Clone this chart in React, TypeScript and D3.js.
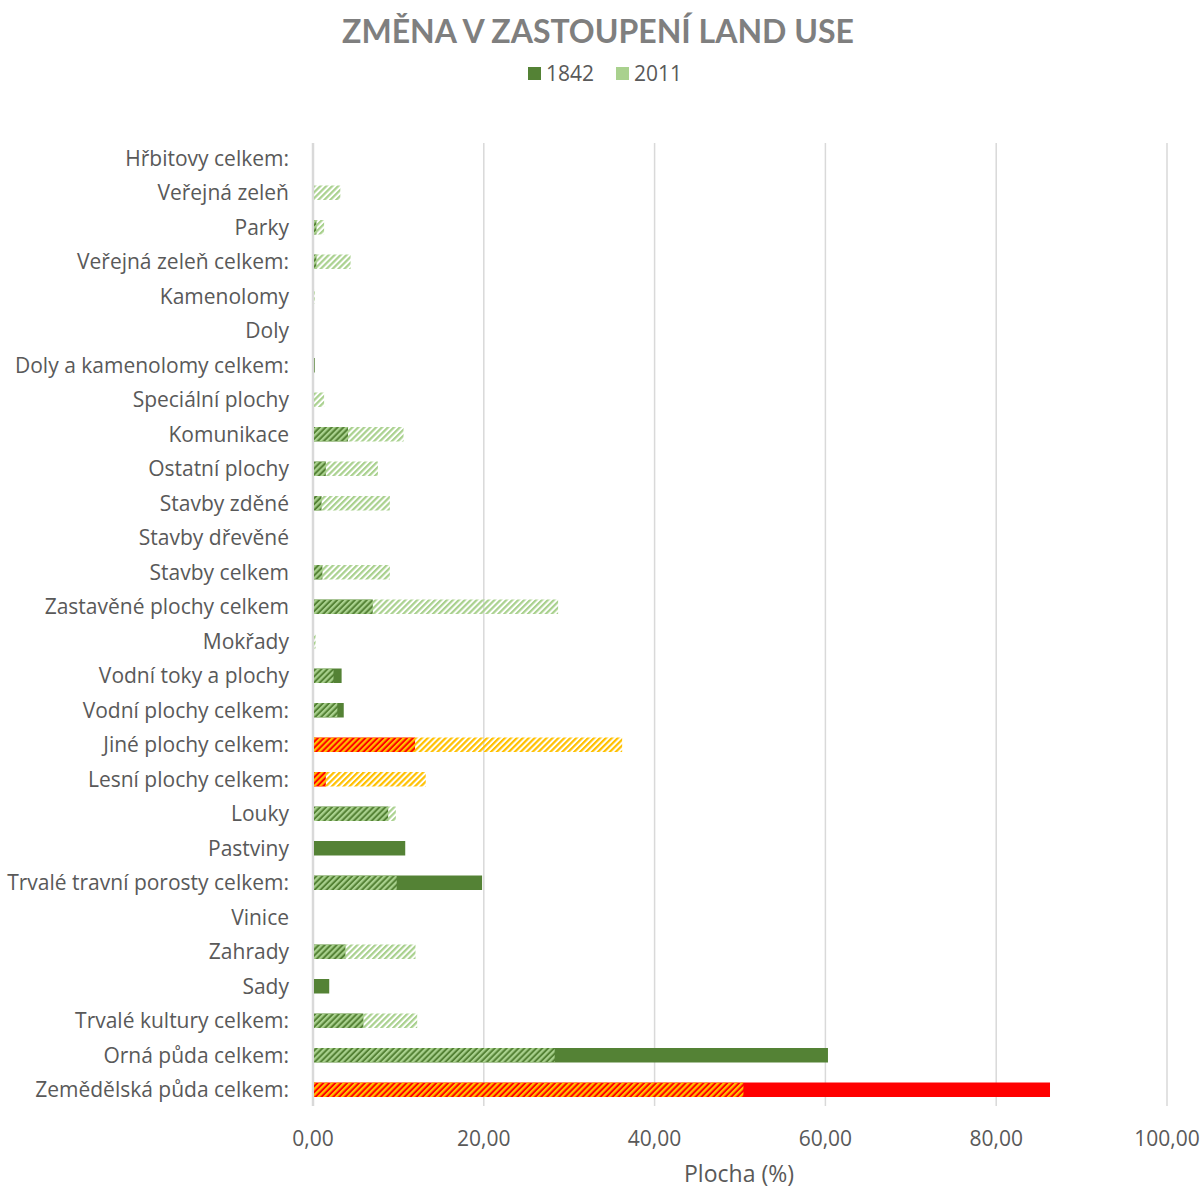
import React from "react";
import * as d3 from "d3";

// categories in displayed order (top to bottom)
const categories = [
  "Hřbitovy celkem:",
  "Veřejná zeleň",
  "Parky",
  "Veřejná zeleň celkem:",
  "Kamenolomy",
  "Doly",
  "Doly a kamenolomy celkem:",
  "Speciální plochy",
  "Komunikace",
  "Ostatní plochy",
  "Stavby zděné",
  "Stavby dřevěné",
  "Stavby celkem",
  "Zastavěné plochy celkem",
  "Mokřady",
  "Vodní toky a plochy",
  "Vodní plochy celkem:",
  "Jiné plochy celkem:",
  "Lesní plochy celkem:",
  "Louky",
  "Pastviny",
  "Trvalé travní porosty celkem:",
  "Vinice",
  "Zahrady",
  "Sady",
  "Trvalé kultury celkem:",
  "Orná půda celkem:",
  "Zemědělská půda celkem:",
];

const values1842 = [
  0, 0, 0.4, 0.4, 0, 0, 0.2, 0, 4.1, 1.5, 1.0, 0, 1.1, 7.0, 0, 3.35, 3.6,
  11.95, 1.5, 8.8, 10.8, 19.8, 0, 3.8, 1.9, 5.9, 60.3, 86.3,
];

const values2011 = [
  0, 3.2, 1.3, 4.4, 0.2, 0, 0, 1.3, 10.6, 7.6, 9.0, 0, 9.0, 28.7, 0.3, 2.4,
  2.85, 36.2, 13.2, 9.7, 0, 9.8, 0, 12.0, 0, 12.2, 28.3, 50.4,
];

const highlighted = [
  "Jiné plochy celkem:",
  "Lesní plochy celkem:",
  "Zemědělská půda celkem:",
];

const xTicks = [0, 20, 40, 60, 80, 100];
const seriesNames = ["1842", "2011"];

const W = 1204;
const H = 1189;
const FONT = "'Open Sans', Lato, sans-serif";
const TITLE_FONT = "Lato, sans-serif";
const TEXT = "#595959";

export default function App() {
  const x = d3.scaleLinear().domain([0, 100]).range([313, 1167]);
  const y = d3
    .scaleBand<string>()
    .domain(categories)
    .range([141, 1107])
    .paddingInner(0.58)
    .paddingOuter(0.29);
  const fmt = (v: number) => v.toFixed(2).replace(".", ",");
  const bh = y.bandwidth();

  return (
    <svg
      width={W}
      height={H}
      style={{ position: "absolute", left: 0, top: 0, background: "#fff" }}
      fontFamily={FONT}
    >
      <defs>
        <pattern
          id="hatchGreen"
          patternUnits="userSpaceOnUse"
          width={4.2}
          height={4.2}
          patternTransform="rotate(45)"
        >
          <rect x={0} y={0} width={2.2} height={4.2} fill="#a9d18e" />
        </pattern>
        <pattern
          id="hatchYellow"
          patternUnits="userSpaceOnUse"
          width={4.2}
          height={4.2}
          patternTransform="rotate(45)"
        >
          <rect x={0} y={0} width={2.2} height={4.2} fill="#ffc000" />
        </pattern>
      </defs>

      {/* title */}
      <text
        x={598}
        y={43}
        textAnchor="middle"
        fontSize={32}
        fontWeight={700}
        fill="#7f7f7f"
        fontFamily={TITLE_FONT}
      >
        ZMĚNA V ZASTOUPENÍ LAND USE
      </text>

      {/* legend */}
      <g fontSize={21} fill={TEXT}>
        <rect x={528} y={67} width={13} height={13} fill="#548235" />
        <text x={546} y={81}>{seriesNames[0]}</text>
        <rect x={616} y={67} width={13} height={13} fill="#a9d18e" />
        <text x={634} y={81}>{seriesNames[1]}</text>
      </g>

      {/* gridlines */}
      {xTicks.map((t) => (
        <line
          key={t}
          x1={x(t)}
          x2={x(t)}
          y1={143}
          y2={1106}
          stroke="#d9d9d9"
          strokeWidth={t === 0 ? 2.5 : 1.5}
        />
      ))}

      {/* 1842 bars */}
      {categories.map((c, i) =>
        values1842[i] > 0 ? (
          <rect
            key={"a" + c}
            x={x(0) + 1}
            y={y(c)}
            width={x(values1842[i]) - x(0) - 1}
            height={bh}
            fill={highlighted.includes(c) ? "#ff0000" : "#548235"}
          />
        ) : null
      )}

      {/* 2011 bars (hatched, on top) */}
      {categories.map((c, i) =>
        values2011[i] > 0 ? (
          <rect
            key={"b" + c}
            x={x(0) + 1}
            y={y(c)}
            width={x(values2011[i]) - x(0) - 1}
            height={bh}
            fill={highlighted.includes(c) ? "url(#hatchYellow)" : "url(#hatchGreen)"}
          />
        ) : null
      )}

      {/* category labels */}
      {categories.map((c) => (
        <text
          key={"l" + c}
          x={289}
          y={(y(c) ?? 0) + bh / 2}
          dy="0.35em"
          textAnchor="end"
          fontSize={21}
          fill={TEXT}
        >
          {c}
        </text>
      ))}

      {/* x tick labels */}
      {xTicks.map((t) => (
        <text
          key={"t" + t}
          x={x(t)}
          y={1146}
          textAnchor="middle"
          fontSize={21}
          fill={TEXT}
        >
          {fmt(t)}
        </text>
      ))}

      <text x={739} y={1182} textAnchor="middle" fontSize={23} fill={TEXT}>
        Plocha (%)
      </text>
    </svg>
  );
}
